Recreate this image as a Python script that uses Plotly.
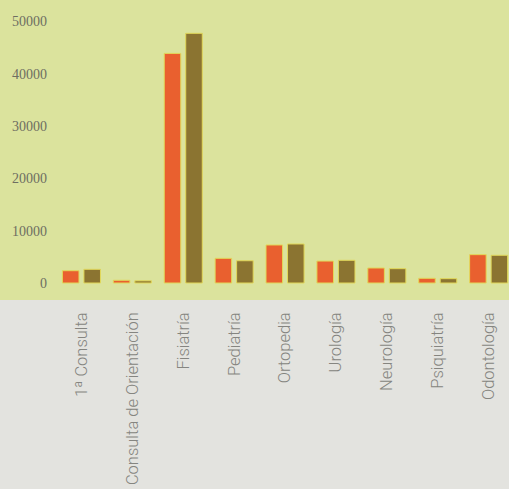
import plotly.graph_objects as go

categories = ["1ª Consulta", "Consulta de Orientación", "Fisiatría", "Pediatría",
              "Ortopedia", "Urología", "Neurología", "Psiquiatría", "Odontología"]
serie_a = [2350, 520, 43900, 4720, 7270, 4200, 2870, 900, 5420]
serie_b = [2620, 420, 47740, 4260, 7460, 4340, 2740, 830, 5300]
y_ticks = [0, 10000, 20000, 30000, 40000, 50000]
y_tick_text = ["0", "10000", "20000", "30000", "40000", "50000"]

ORANGE = "#e9602f"
BROWN = "#8b7431"
EDGE = "#e2d85a"
YELLOW = "#dbe39d"
GRAY = "#e3e3df"

fig = go.Figure()
fig.add_trace(go.Bar(x=categories, y=serie_a, marker=dict(color=ORANGE, line=dict(color=EDGE, width=1))))
fig.add_trace(go.Bar(x=categories, y=serie_b, marker=dict(color=BROWN, line=dict(color=EDGE, width=1))))

fig.add_shape(type="rect", xref="paper", yref="paper", x0=-0.2, x1=1.1, y0=-1.0, y1=0,
              fillcolor=GRAY, line=dict(width=0), layer="below")

fig.update_layout(
    width=509, height=489,
    margin=dict(l=56, r=0, t=0, b=189, pad=0),
    paper_bgcolor=YELLOW, plot_bgcolor=YELLOW,
    showlegend=False,
    barmode="group", bargap=0.155, bargroupgap=0.23,
    xaxis=dict(
        type="category", range=[-0.5, 8.4],
        showgrid=False, zeroline=False, showline=False, ticks="",
        tickangle=-90,
        tickfont=dict(family="Roboto", size=16.5, color="#858580", weight=300),
        ticklabelstandoff=8,
    ),
    yaxis=dict(
        range=[-3250, 54110],
        tickvals=y_ticks, ticktext=y_tick_text,
        showgrid=False, zeroline=False, showline=False, ticks="",
        tickfont=dict(family="Liberation Serif", size=14, color="#6e6e62"),
        ticklabelstandoff=8,
    ),
)

fig.write_html("out.html")
